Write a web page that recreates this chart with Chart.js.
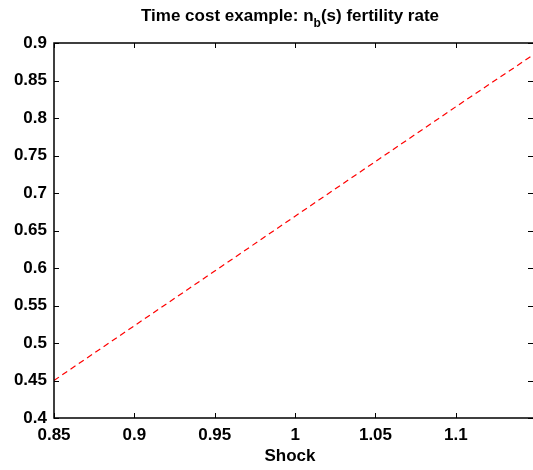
<!DOCTYPE html>
<html>
<head>
<meta charset="utf-8">
<script src="https://cdn.jsdelivr.net/npm/chart.js@4"></script>
<style>
  html, body { margin: 0; padding: 0; background: #fff; overflow: hidden; }
</style>
</head>
<body>
<canvas id="fertChart" width="533" height="470"></canvas>
<script>
// values
const shock = [0.85, 0.9, 0.95, 1.0, 1.05, 1.1, 1.148];
const fertility = [0.45, 0.523, 0.596, 0.669, 0.742, 0.815, 0.884];
const xTicks = [0.85, 0.9, 0.95, 1, 1.05, 1.1];
const yTicks = [0.4, 0.45, 0.5, 0.55, 0.6, 0.65, 0.7, 0.75, 0.8, 0.85, 0.9];

const FONT = '"Liberation Sans", Arial, Helvetica, sans-serif';

// matlab style box (right edge falls just off the picture), inward ticks, title, x label
const matlabAxes = {
    id: 'matlabAxes',
    afterDraw(chart) {
        const ctx = chart.ctx;
        const a = chart.chartArea;
        const xs = chart.scales.x;
        const ys = chart.scales.y;
        const tl = 5;
        ctx.save();
        ctx.strokeStyle = '#000';
        ctx.lineWidth = 1.5;
        ctx.beginPath();
        ctx.moveTo(a.right + 2, a.top);
        ctx.lineTo(a.left, a.top);
        ctx.lineTo(a.left, a.bottom);
        ctx.lineTo(a.right + 2, a.bottom);
        ctx.stroke();

        ctx.lineWidth = 1;
        ctx.beginPath();
        xTicks.forEach(v => {
            const px = Math.round(xs.getPixelForValue(v)) + 0.5;
            ctx.moveTo(px, a.bottom); ctx.lineTo(px, a.bottom - tl);
            ctx.moveTo(px, a.top); ctx.lineTo(px, a.top + tl);
        });
        yTicks.forEach(v => {
            const py = Math.round(ys.getPixelForValue(v)) + 0.5;
            ctx.moveTo(a.left, py); ctx.lineTo(a.left + tl, py);
            ctx.moveTo(a.right, py); ctx.lineTo(a.right - tl, py);
        });
        ctx.stroke();

        // title: Time cost example: n_b(s) fertility rate
        const cx = (a.left + a.right) / 2 - 3.5;
        const parts = [
            { t: 'Time cost example: n', size: 17, dy: 0 },
            { t: 'b', size: 12, dy: 6 },
            { t: '(s) fertility rate', size: 17, dy: 0 }
        ];
        let total = 0;
        parts.forEach(p => {
            ctx.font = 'bold ' + p.size + 'px ' + FONT;
            p.w = ctx.measureText(p.t).width;
            total += p.w;
        });
        let x = cx - total / 2;
        ctx.fillStyle = '#000';
        ctx.textBaseline = 'alphabetic';
        ctx.textAlign = 'left';
        parts.forEach(p => {
            ctx.font = 'bold ' + p.size + 'px ' + FONT;
            ctx.fillText(p.t, x, 21 + p.dy);
            x += p.w;
        });

        // x axis label
        ctx.font = 'bold 17px ' + FONT;
        ctx.textAlign = 'center';
        ctx.fillText('Shock', cx, 461);
        ctx.restore();
    }
};

new Chart(document.getElementById('fertChart'), {
    type: 'line',
    data: {
        datasets: [{
            data: shock.map((s, i) => ({ x: s, y: fertility[i] })),
            borderColor: '#ff0000',
            borderWidth: 1.2,
            borderDash: [6, 4],
            pointRadius: 0,
            fill: false,
            tension: 0
        }]
    },
    options: {
        responsive: false,
        animation: false,
        events: [],
        layout: { padding: { top: 43, right: 0, left: 0, bottom: 0 } },
        plugins: {
            legend: { display: false },
            tooltip: { enabled: false },
            title: { display: false }
        },
        scales: {
            x: {
                type: 'linear',
                min: 0.85,
                max: 1.148,
                afterBuildTicks: s => { s.ticks = xTicks.map(v => ({ value: v })); },
                afterFit: s => { s.height = 52; },
                grid: { display: false, drawTicks: false },
                border: { display: false },
                ticks: {
                    padding: 7,
                    color: '#000',
                    font: { family: FONT, size: 17, weight: 'bold' },
                    maxRotation: 0,
                    callback: v => String(v)
                }
            },
            y: {
                type: 'linear',
                min: 0.4,
                max: 0.9,
                afterBuildTicks: s => { s.ticks = yTicks.map(v => ({ value: v })); },
                afterFit: s => { s.width = 54; },
                grid: { display: false, drawTicks: false },
                border: { display: false },
                ticks: {
                    padding: 7,
                    color: '#000',
                    font: { family: FONT, size: 17, weight: 'bold' },
                    callback: v => String(v)
                }
            }
        }
    },
    plugins: [matlabAxes]
});
</script>
</body>
</html>
